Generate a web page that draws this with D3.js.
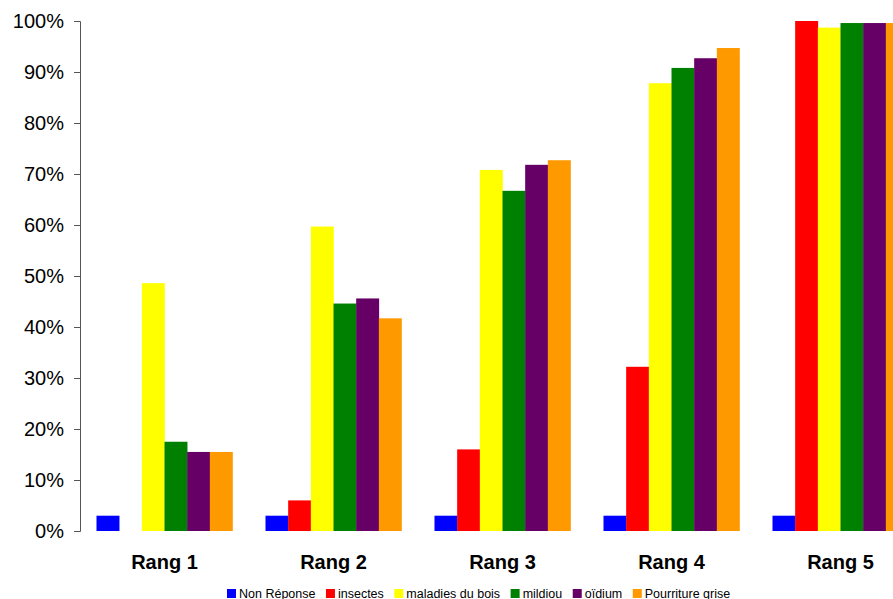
<!DOCTYPE html>
<html>
<head>
<meta charset="utf-8">
<script src="https://cdn.jsdelivr.net/npm/d3@7"></script>
<style>
  html, body { margin: 0; padding: 0; background: #fff; overflow: hidden; }
  svg { display: block; font-family: Arial, "Liberation Sans", sans-serif; }
</style>
</head>
<body>
<svg id="chart" width="893" height="599"></svg>
<script>
const categories = ["Rang 1", "Rang 2", "Rang 3", "Rang 4", "Rang 5"];
const seriesNames = ["Non Réponse", "insectes", "maladies du bois", "mildiou", "oïdium", "Pourriture grise"];
const seriesColors = ["#0000FF", "#FF0000", "#FFFF00", "#008000", "#660066", "#FF9900"];
const nonReponse = [3, 3, 3, 3, 3];
const insectes = [0, 6, 16, 32.2, 100];
const maladiesDuBois = [48.6, 59.7, 70.8, 87.8, 98.7];
const mildiou = [17.5, 44.6, 66.7, 90.8, 99.6];
const oidium = [15.5, 45.6, 71.8, 92.7, 99.6];
const pourritureGrise = [15.5, 41.7, 72.7, 94.7, 99.6];
const yTicks = [0, 10, 20, 30, 40, 50, 60, 70, 80, 90, 100];

const seriesValues = [nonReponse, insectes, maladiesDuBois, mildiou, oidium, pourritureGrise];

const svg = d3.select("#chart");
const plotLeft = 80, plotRight = 925, plotTop = 21, plotBottom = 531;

const x0 = d3.scaleBand().domain(categories).range([plotLeft, plotRight]).padding(0);
const x1 = d3.scaleBand().domain(seriesNames)
  .range([x0.bandwidth() * 0.0976, x0.bandwidth() * 0.9024]).padding(0);
const y = d3.scaleLinear().domain([0, 100]).range([plotBottom, plotTop]);

// bars
const groups = svg.append("g").selectAll("g")
  .data(categories)
  .join("g")
  .attr("transform", d => `translate(${x0(d)},0)`);

groups.selectAll("rect")
  .data((c, ci) => seriesNames.map((s, si) => ({ s, si, v: seriesValues[si][ci] })))
  .join("rect")
  .attr("x", d => x1(d.s))
  .attr("width", x1.bandwidth() + 0.3)
  .attr("y", d => y(d.v))
  .attr("height", d => y(0) - y(d.v))
  .attr("fill", d => seriesColors[d.si]);

// y axis
const yAxis = d3.axisLeft(y).tickValues(yTicks).tickFormat(d => d + "%").tickSize(6).tickPadding(10);
const ya = svg.append("g").attr("transform", `translate(${plotLeft},0)`).call(yAxis);
ya.select(".domain").attr("stroke", "#555").attr("stroke-width", 1);
ya.selectAll(".tick line").attr("stroke", "#555");
ya.selectAll(".tick text").attr("font-size", 20).attr("fill", "#000")
  .attr("font-family", "Arial, 'Liberation Sans', sans-serif");

// x axis labels
const xAxis = d3.axisBottom(x0).tickSize(0).tickPadding(24);
const xa = svg.append("g").attr("transform", `translate(0,${plotBottom})`).call(xAxis);
xa.select(".domain").remove();
xa.selectAll(".tick text").attr("font-size", 20).attr("font-weight", "bold").attr("fill", "#000")
  .attr("font-family", "Arial, 'Liberation Sans', sans-serif");

// legend
const legend = svg.append("g").attr("transform", "translate(227,589)");
let lx = 0;
seriesNames.forEach((name, i) => {
  const g = legend.append("g").attr("transform", `translate(${lx},0)`);
  g.append("rect").attr("x", 0).attr("y", 0).attr("width", 9).attr("height", 9).attr("fill", seriesColors[i]);
  const t = g.append("text").attr("x", 12).attr("y", 8.5).attr("font-size", 12.5).attr("fill", "#000").text(name);
  const w = t.node().getComputedTextLength();
  lx += 12 + w + 10.5;
});
</script>
</body>
</html>
